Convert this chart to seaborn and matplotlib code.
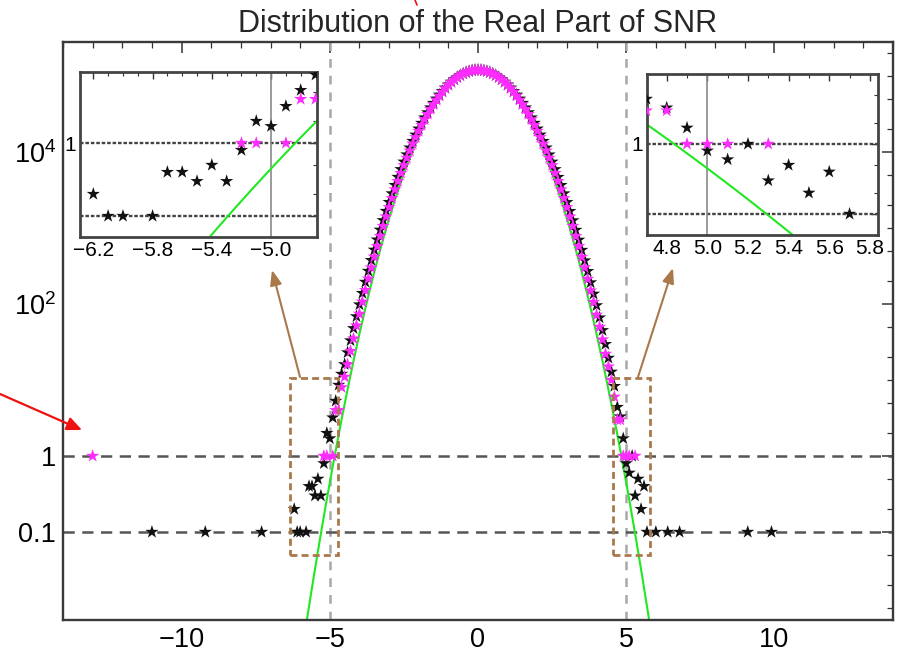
import numpy as np
import pandas as pd
import matplotlib
matplotlib.use("Agg")
import matplotlib.pyplot as plt
import seaborn as sns
from matplotlib.patches import Rectangle
from matplotlib.ticker import MultipleLocator, LogLocator, NullFormatter, FixedLocator

# ---------------- data ----------------
title = "Distribution of the Real Part of SNR"

# bin centres of the histogram bulk (-4.6 ... 4.6, step 0.1)
bulk_x = [round(v, 1) for v in np.arange(-4.6, 4.61, 0.1)]

black_left_tail_x = [-11.0, -9.2, -7.3, -6.2, -6.1, -6.0, -5.8, -5.7, -5.6, -5.5,
                     -5.4, -5.3, -5.2, -5.1, -5.0, -4.9, -4.8, -4.7]
black_left_tail_y = [0.1, 0.1, 0.1, 0.2, 0.1, 0.1, 0.1, 0.4, 0.4, 0.3,
                     0.5, 0.3, 0.8, 2.0, 1.7, 3.2, 5.3, 8.6]
black_bulk_y = [12.0, 16.1, 23.0, 33.1, 47.9, 68.6, 98.3, 139, 195, 272,
                377, 516, 702, 946, 1262, 1671, 2190, 2846, 3664, 4682,
                5925, 7436, 9250, 11390, 13930, 16850, 20240, 24060, 28390, 33150,
                38410, 44080, 50170, 56550, 63230, 70020, 76900, 83670, 90270, 96480,
                102250, 107350, 111760, 115280, 117890, 119460,
                120010,
                119470, 117880, 115290, 111750, 107370, 102230, 96500, 90250, 83690,
                76880, 70040, 63210, 56570, 50150, 44090, 38400, 33170, 28370, 24070,
                20230, 16860, 13920, 11400, 9238, 7428, 5918, 4675, 3660, 2841,
                2183, 1665, 1257, 941, 698, 513, 373, 270, 192, 136,
                95.8, 66.2, 45.1, 29.6, 19.5, 12.8, 8.3]
black_right_tail_x = [4.7, 4.8, 4.9, 5.0, 5.1, 5.2, 5.3, 5.4, 5.5, 5.6,
                      5.7, 6.0, 6.4, 6.8, 9.1, 9.9]
black_right_tail_y = [4.4, 3.3, 1.7, 0.8, 0.6, 1.0, 0.3, 0.5, 0.2, 0.4,
                      0.1, 0.1, 0.1, 0.1, 0.1, 0.1]

mag_left_tail_x = [-13.0, -5.2, -5.1, -4.9, -4.8, -4.7]
mag_left_tail_y = [1, 1, 1, 1, 4, 4]
mag_bulk_y = [8, 11, 16, 24, 35, 52, 74, 107, 152, 215,
              301, 418, 574, 782, 1058, 1412, 1874, 2458, 3203, 4128,
              5270, 6672, 8368, 10397, 12812, 15618, 18877, 22593, 26796, 31504,
              36688, 42345, 48412, 54843, 61738, 68687, 75693, 82679, 89352, 95703,
              101597, 106904, 111441, 115107, 117806, 119447,
              119985,
              119452, 117795, 115112, 111436, 106898, 101601, 95697, 89348, 82683,
              75688, 68694, 61730, 54847, 48405, 42351, 36681, 31509, 26791, 22598,
              18873, 15622, 12807, 10401, 8365, 6675, 5267, 4131, 3199, 2461,
              1871, 1409, 1061, 779, 575, 416, 302, 213, 150, 106,
              72, 50, 34, 22, 15, 10, 6]
mag_right_tail_x = [4.7, 4.8, 4.9, 5.0, 5.1, 5.3]
mag_right_tail_y = [3, 3, 1, 1, 1, 1]

# Gaussian reference curve parameters
gauss_amp = 1.2e5
gauss_sigma = 1.0

main_yticks = [0.1, 1, 100, 1e4]
main_yticklabels = ["0.1", "1", r"$10^{2}$", r"$10^{4}$"]
main_xticks = [-10, -5, 0, 5, 10]
left_inset_xticks = [-6.2, -5.8, -5.4, -5.0]
right_inset_xticks = [4.8, 5.0, 5.2, 5.4, 5.6, 5.8]

# ---------------- frames ----------------
black_df = pd.DataFrame({"x": black_left_tail_x + bulk_x + black_right_tail_x,
                         "y": black_left_tail_y + black_bulk_y + black_right_tail_y})
mag_df = pd.DataFrame({"x": mag_left_tail_x + bulk_x + mag_right_tail_x,
                       "y": mag_left_tail_y + mag_bulk_y + mag_right_tail_y})
gx = np.linspace(-7, 7, 1401)
gauss_df = pd.DataFrame({"x": gx, "y": gauss_amp * np.exp(-gx ** 2 / (2 * gauss_sigma ** 2))})

# ---------------- style ----------------
sns.set_style("white")
plt.rcParams["font.family"] = ["Liberation Sans", "DejaVu Sans"]
plt.rcParams["mathtext.fontset"] = "custom"
plt.rcParams["mathtext.rm"] = "Liberation Sans"
plt.rcParams["mathtext.it"] = "Liberation Sans"

W, H = 899, 654
fig = plt.figure(figsize=(W / 100, H / 100), dpi=100)

def frac(l, t, r, b):
    return [l / W, 1 - b / H, (r - l) / W, (b - t) / H]

BLACK = "#111111"
MAG = "#ff2cff"
GREEN = "#22e822"
BROWN = "#a9794a"
STAR = 100

def draw_data(ax, s=STAR):
    sns.lineplot(data=gauss_df, x="x", y="y", color=GREEN, lw=1.5, ax=ax, zorder=2)
    sns.scatterplot(data=black_df, x="x", y="y", marker="*", s=s, color=BLACK,
                    edgecolor="none", linewidth=0, ax=ax, zorder=3)
    sns.scatterplot(data=mag_df, x="x", y="y", marker="*", s=s, color=MAG,
                    edgecolor="none", linewidth=0, ax=ax, zorder=4)

# ---------------- main axes ----------------
ax = fig.add_axes(frac(63, 42, 893, 620))
ax.set_yscale("log")
ax.axvline(-5, color="#a8a8a8", lw=1.8, ls=(0, (3.5, 3.2)), zorder=1)
ax.axvline(5, color="#a8a8a8", lw=1.8, ls=(0, (3.5, 3.2)), zorder=1)
ax.axhline(1, color="#555555", lw=1.8, ls=(0, (4.5, 3.0)), zorder=1)
ax.axhline(0.1, color="#555555", lw=1.8, ls=(0, (4.5, 3.0)), zorder=1)
draw_data(ax)
ax.set_xlim(-14, 14)
ax.set_ylim(0.00695, 2.8e5)
ax.set_xlabel("")
ax.set_ylabel("")
ax.set_xticks(main_xticks)
ax.set_xticklabels([f"{v}" if v >= 0 else f"\u2212{abs(v)}" for v in main_xticks])
ax.xaxis.set_minor_locator(MultipleLocator(1))
ax.yaxis.set_major_locator(FixedLocator(main_yticks))
ax.set_yticklabels(main_yticklabels)
ax.yaxis.set_minor_locator(LogLocator(base=10, subs=(1.0, 2.0, 5.0), numticks=30))
ax.yaxis.set_minor_formatter(NullFormatter())
ax.tick_params(which="major", direction="in", length=8, width=1.1, top=True, right=True,
               labelsize=19.5, pad=5, colors="#333333", labelcolor="black")
ax.tick_params(which="minor", direction="in", length=4, width=0.9, top=True, right=True,
               colors="#333333")
for sp in ax.spines.values():
    sp.set_color("#3a3a3a")
    sp.set_linewidth(1.7)
ax.set_title(title, fontsize=22, pad=7)

# zoom rectangles
ax.add_patch(Rectangle((-6.35, 0.05), 1.62, 10.6 - 0.05, fill=False, edgecolor=BROWN,
                       lw=2.0, ls=(0, (2.5, 1.5)), zorder=5))
ax.add_patch(Rectangle((4.56, 0.05), 1.24, 10.6 - 0.05, fill=False, edgecolor=BROWN,
                       lw=2.0, ls=(0, (2.5, 1.5)), zorder=5))

# ---------------- insets ----------------
def style_inset(iax, xticks, xlim, ylim, vline):
    iax.set_yscale("log")
    iax.axhline(1, color="#444444", lw=1.7, ls=(0, (1.5, 0.8)), zorder=1)
    iax.axhline(0.1, color="#444444", lw=1.7, ls=(0, (1.5, 0.8)), zorder=1)
    iax.axvline(vline, color="#8a8a8a", lw=1.2, zorder=1)
    draw_data(iax)
    iax.set_xlim(*xlim)
    iax.set_ylim(*ylim)
    iax.set_xlabel("")
    iax.set_ylabel("")
    iax.set_xticks(xticks)
    iax.set_xticklabels([f"{v:.1f}" if v >= 0 else f"\u2212{abs(v):.1f}" for v in xticks])
    iax.xaxis.set_minor_locator(MultipleLocator(0.1))
    iax.yaxis.set_major_locator(FixedLocator([0.1, 1]))
    iax.set_yticklabels(["", "1"])
    iax.yaxis.set_minor_locator(LogLocator(base=10, subs=(2.0, 5.0), numticks=30))
    iax.yaxis.set_minor_formatter(NullFormatter())
    iax.tick_params(which="major", direction="in", length=5, width=1.0, top=True, right=True,
                    labelsize=15, pad=3, colors="#333333", labelcolor="black")
    iax.tick_params(which="minor", direction="in", length=3, width=0.8, top=True, right=True,
                    colors="#333333")
    for sp in iax.spines.values():
        sp.set_color("#444444")
        sp.set_linewidth(2.0)
    iax.set_facecolor("white")

lax = fig.add_axes(frac(80, 72, 317, 237), zorder=10)
style_inset(lax, left_inset_xticks, (-6.29, -4.69), (0.0516, 9.4), -5.0)
rax = fig.add_axes(frac(647, 74, 878, 235), zorder=10)
style_inset(rax, right_inset_xticks, (4.703, 5.84), (0.05, 10.0), 5.0)

# ---------------- arrows ----------------
def fig_pt(px, py):
    return (px / W, 1 - py / H)

arrow_ax = fig.add_axes([0, 0, 1, 1], zorder=20)
arrow_ax.set_axis_off()
arrow_ax.patch.set_alpha(0)
arrow_ax.set_xlim(0, 1)
arrow_ax.set_ylim(0, 1)
for start, tip in [((300, 377), (272, 270)), ((638, 377), (673, 268))]:
    arrow_ax.annotate("", xy=fig_pt(*tip), xytext=fig_pt(*start),
                      xycoords="axes fraction", textcoords="axes fraction",
                      arrowprops=dict(arrowstyle="-|>,head_length=0.9,head_width=0.35",
                                      color=BROWN, lw=1.5, shrinkA=0, shrinkB=0))
arrow_ax.annotate("", xy=fig_pt(82, 430), xytext=fig_pt(0, 394),
                  xycoords="axes fraction", textcoords="axes fraction",
                  arrowprops=dict(arrowstyle="-|>,head_length=0.9,head_width=0.4",
                                  color="#ee1111", lw=1.6, shrinkA=0, shrinkB=0))
arrow_ax.plot([415 / W, 417 / W], [1.0, 1 - 5 / H], color="#ee1111", lw=1.2)

fig.savefig("out.png", dpi=100)
